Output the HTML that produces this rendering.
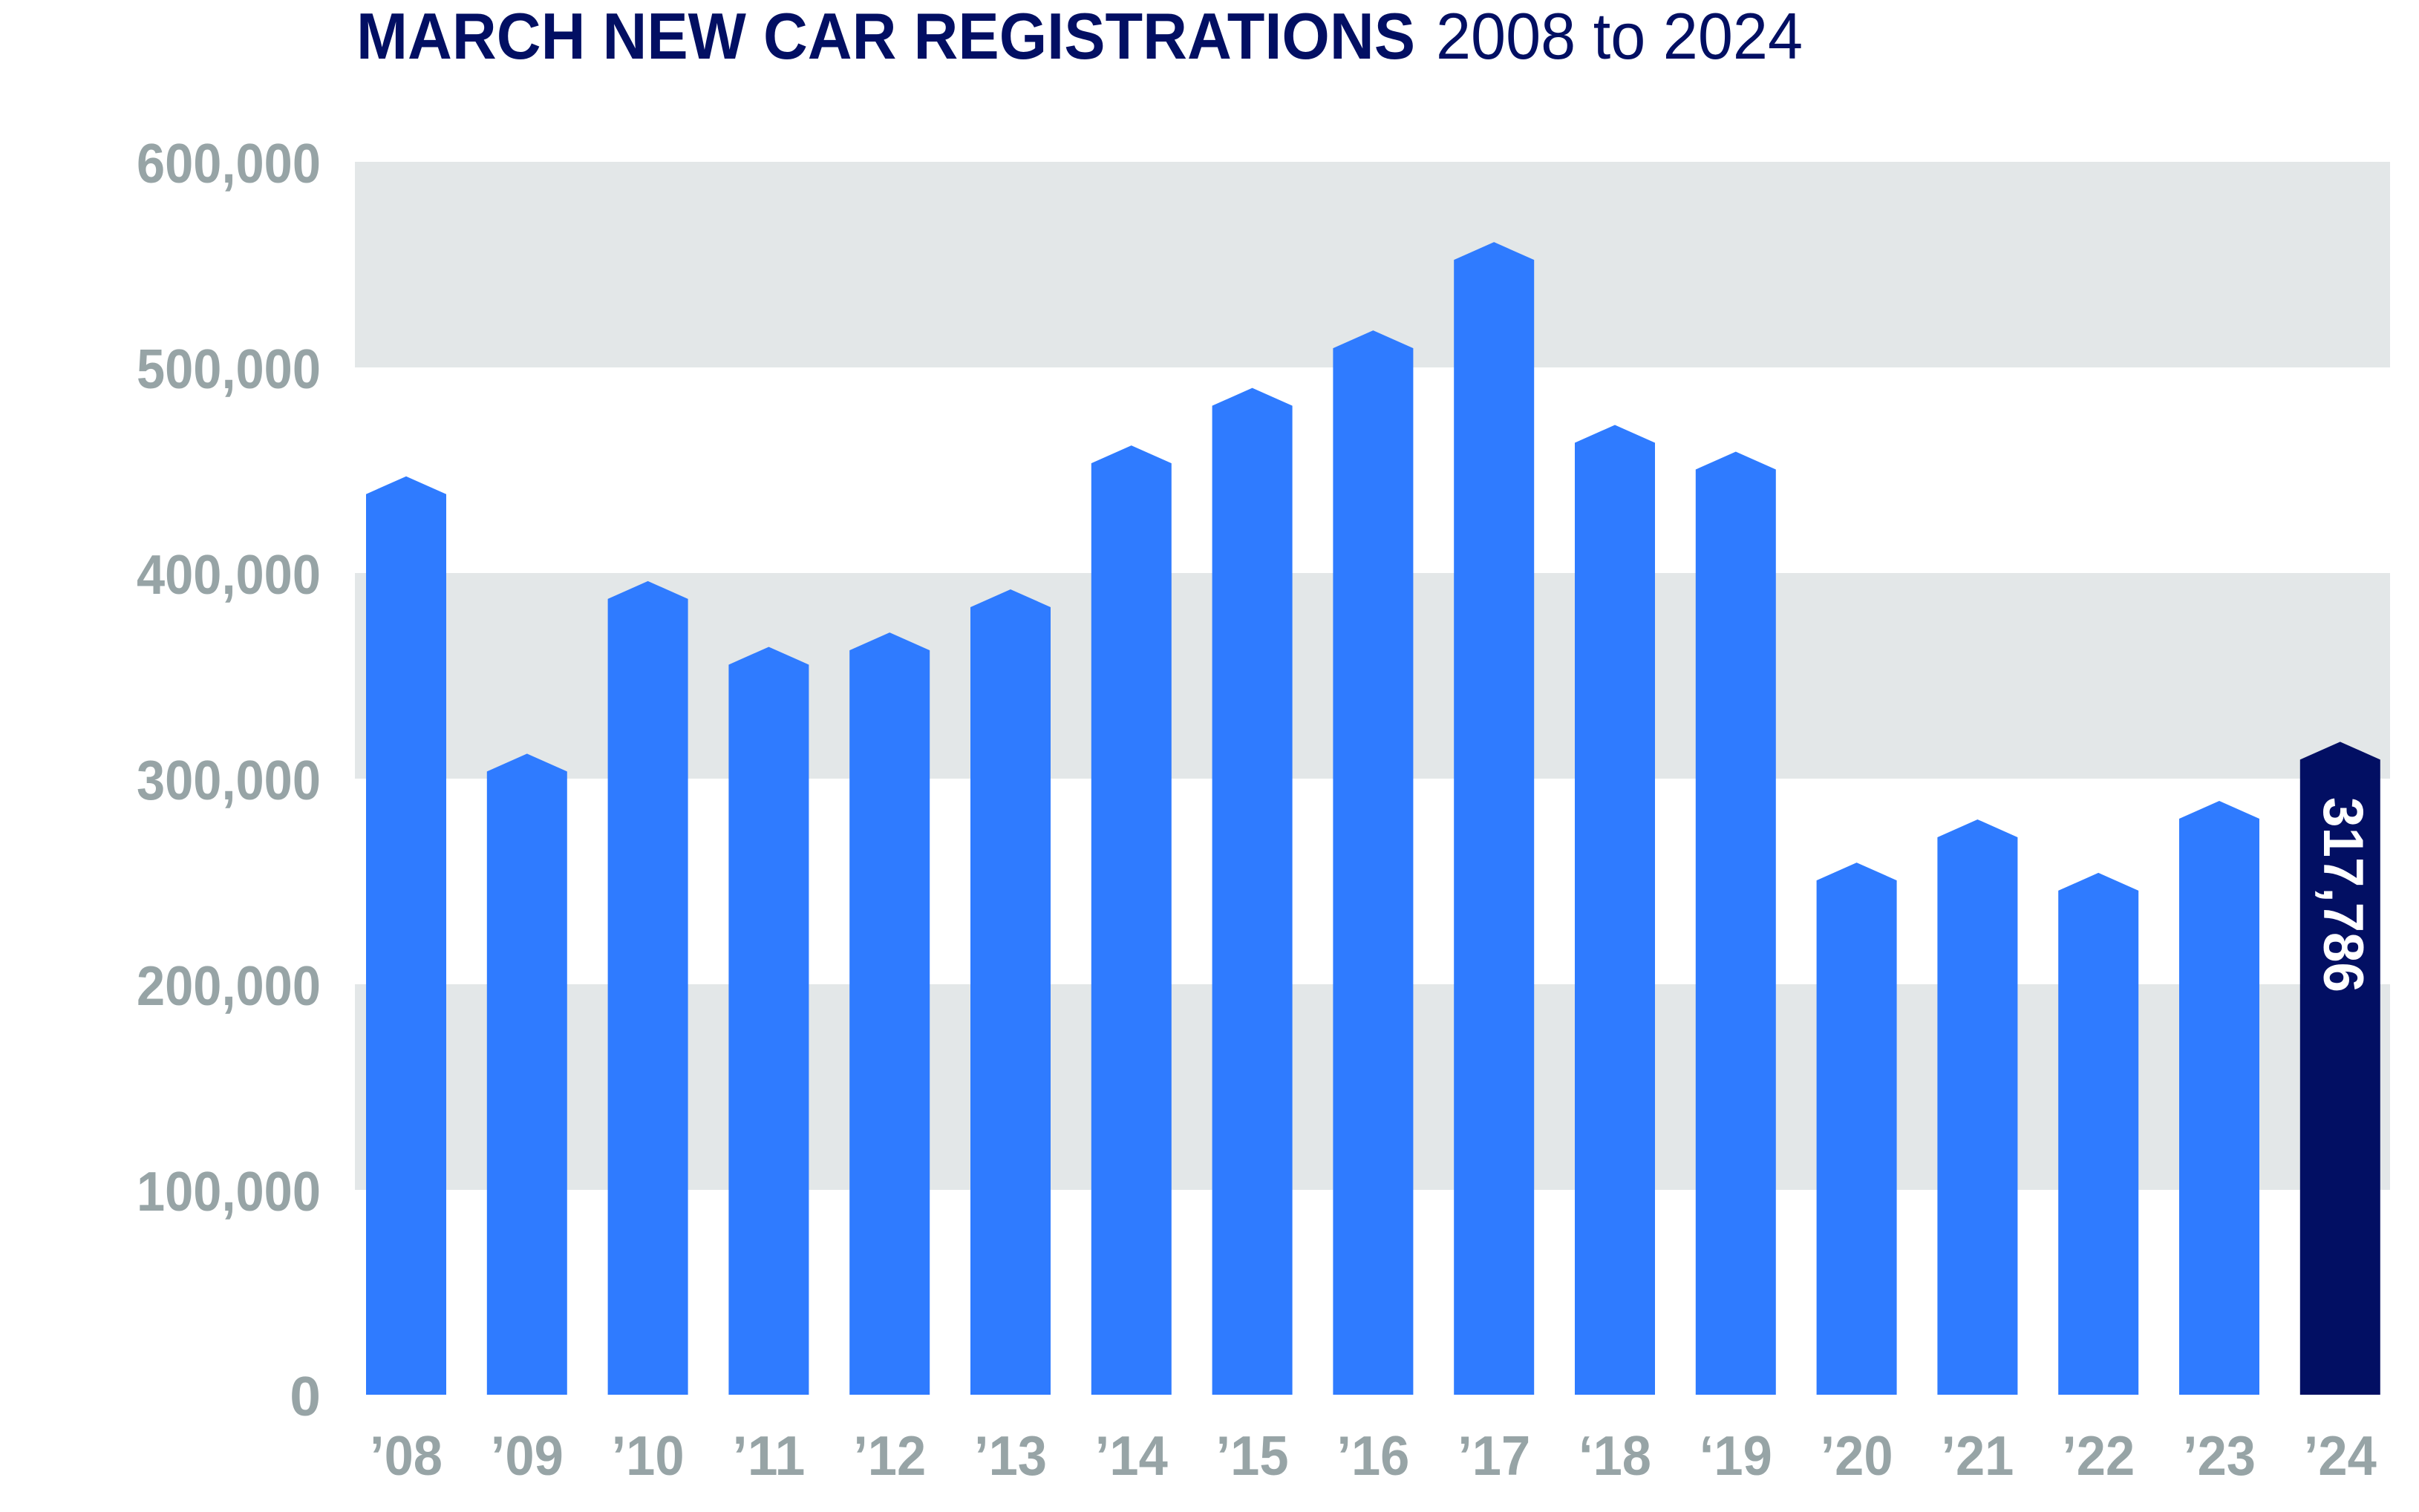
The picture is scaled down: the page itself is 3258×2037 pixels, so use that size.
<!DOCTYPE html>
<html><head><meta charset="utf-8"><style>
html,body{margin:0;padding:0;background:#fff;}
svg{display:block;}
</style></head><body>
<svg width="3258" height="2037" viewBox="0 0 3258 2037" xmlns="http://www.w3.org/2000/svg">
<rect width="3258" height="2037" fill="#fff"/>
<g fill="#e3e7e8">
<rect x="478" y="218" width="2741" height="277"/>
<rect x="478" y="772" width="2741" height="277"/>
<rect x="478" y="1326" width="2741" height="277"/>
</g>
<text x="480" y="79" font-family="Liberation Sans, sans-serif" font-size="88" fill="#020f63" font-weight="bold" textLength="1426" lengthAdjust="spacingAndGlyphs">MARCH NEW CAR REGISTRATIONS</text>
<text x="1934" y="79" font-family="Liberation Sans, sans-serif" font-size="88" fill="#020f63" textLength="494" lengthAdjust="spacingAndGlyphs">2008 to 2024</text>
<g font-family="Liberation Sans, sans-serif" font-weight="bold" font-size="75" fill="#97a4a6" text-anchor="end">
<text x="432" y="246" textLength="248" lengthAdjust="spacingAndGlyphs">600,000</text>
<text x="432" y="523" textLength="248" lengthAdjust="spacingAndGlyphs">500,000</text>
<text x="432" y="800" textLength="248" lengthAdjust="spacingAndGlyphs">400,000</text>
<text x="432" y="1077" textLength="248" lengthAdjust="spacingAndGlyphs">300,000</text>
<text x="432" y="1354" textLength="248" lengthAdjust="spacingAndGlyphs">200,000</text>
<text x="432" y="1631" textLength="248" lengthAdjust="spacingAndGlyphs">100,000</text>
<text x="432" y="1907">0</text>
</g>
<g id="bars"></g>
<g id="labels" font-family="Liberation Sans, sans-serif" font-weight="bold" font-size="75" fill="#97a4a6" text-anchor="middle"></g>
<script>
var vals=[447,312,396,364,371,392,462,490,518,561,472,459,259,280,254,289,317.786];
var labs=["’08","’09","’10","’11","’12","’13","’14","’15","’16","’17","‘18","‘19","’20","’21","’22","’23","’24"];
var ns="http://www.w3.org/2000/svg",b=document.getElementById("bars"),l=document.getElementById("labels");
for(var i=0;i<17;i++){
 var c=547+i*162.8,w=54,peak=1879-vals[i]*2.768,sh=peak+24;
 var p=document.createElementNS(ns,"polygon");
 p.setAttribute("points",(c-w)+",1879 "+(c-w)+","+sh+" "+c+","+peak+" "+(c+w)+","+sh+" "+(c+w)+",1879");
 p.setAttribute("fill",i==16?"#020f63":"#2f7bff");
 b.appendChild(p);
 var t=document.createElementNS(ns,"text");
 t.setAttribute("x",c);t.setAttribute("y",1987);
 t.setAttribute("textLength","98");t.setAttribute("lengthAdjust","spacingAndGlyphs");
 t.textContent=labs[i];l.appendChild(t);
}
</script>
<text transform="translate(3130,1074) rotate(90)" font-family="Liberation Sans, sans-serif" font-weight="bold" font-size="76" fill="#fff" textLength="263" lengthAdjust="spacingAndGlyphs">317,786</text>
</svg>
</body></html>
